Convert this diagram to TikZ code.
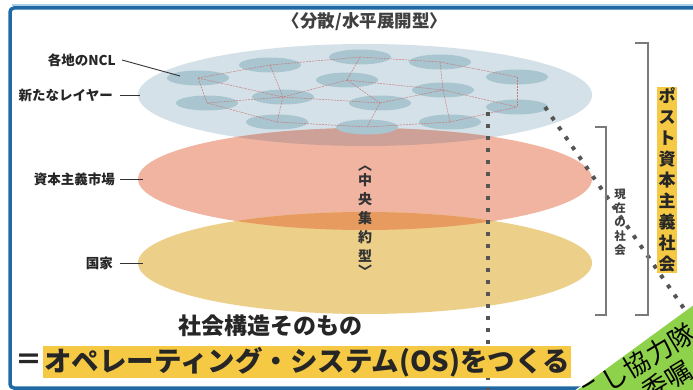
\documentclass[tikz,border=0pt]{standalone}
\usepackage{fontspec}
\setmainfont{Noto Sans CJK JP}
\usetikzlibrary{shapes.geometric}
\definecolor{frameblue}{HTML}{1F6AA5}
\definecolor{framelight}{HTML}{A9D2E6}
\definecolor{layerblue}{HTML}{D5E1E8}
\definecolor{nodeblue}{HTML}{A9C5D0}
\definecolor{pinklayer}{HTML}{F1B4A1}
\definecolor{yellowlayer}{HTML}{ECCF89}
\definecolor{orangeband}{HTML}{E89B5E}
\definecolor{brownband}{HTML}{CDA198}
\definecolor{hlyellow}{HTML}{F6C945}
\definecolor{netred}{HTML}{C77B7B}
\definecolor{bannergreen}{HTML}{8ED24C}
\definecolor{dotgray}{HTML}{555555}
\definecolor{brackgray}{HTML}{7A7A7A}
\tikzset{
  layer/.style={ellipse, minimum width=454pt, minimum height=102pt, inner sep=0pt},
  netnode/.style={ellipse, fill=nodeblue, minimum width=62pt, minimum height=15pt, inner sep=0pt},
  netline/.style={netred, line width=0.5pt, dash pattern=on 2pt off 1pt},
  dotline/.style={dotgray, line width=4pt, dash pattern=on 4pt off 8pt},
  bracketline/.style={brackgray, line width=1.2pt},
  leader/.style={draw=black!80, line width=0.9pt},
  lab/.style={font=\fontsize{13.5}{15}\selectfont\bfseries, text=black!85, inner sep=0pt},
  vtext/.style={align=center, inner sep=0pt},
}
\begin{document}
\begin{tikzpicture}[x=1pt,y=-1pt]
\useasboundingbox (0,0) rectangle (693,390);
\clip (0,0) rectangle (693,390);
\fill[white] (0,0) rectangle (693,390);
% frame
\draw[framelight, line width=1.5pt] (12,5) -- (700,5);
\draw[frameblue, line width=3.5pt, rounded corners=4pt] (10,8) rectangle (720,388);
% title
\node[font=\fontsize{17.5}{19}\selectfont\bfseries, text=black!75] (title) at (365,22) {〈分散/水平展開型〉};
% layers
\node[layer, fill=layerblue] (blue) at (365,95) {};
\node[layer, fill=pinklayer] (pink) at (365,179) {};
\node[layer, fill=yellowlayer] (yellow) at (365,263) {};
\begin{scope}
  \clip (365,179) ellipse [x radius=227pt, y radius=51pt];
  \fill[orangeband] (365,263) ellipse [x radius=227pt, y radius=51pt];
  \fill[brownband] (365,95) ellipse [x radius=227pt, y radius=51pt];
\end{scope}
% network
\node[netnode] (n1) at (198,78) {};
\node[netnode] (n2) at (270,65) {};
\node[netnode] (n3) at (360,57) {};
\node[netnode] (n4) at (440,62) {};
\node[netnode] (n5) at (517,77) {};
\node[netnode] (n6) at (347,80) {};
\node[netnode] (n7) at (283,97) {};
\node[netnode] (n8) at (443,90) {};
\node[netnode] (n9) at (207,103) {};
\node[netnode] (n10) at (380,103) {};
\node[netnode] (n11) at (517,107) {};
\node[netnode] (n12) at (277,122) {};
\node[netnode] (n13) at (367,127) {};
\node[netnode] (n14) at (450,122) {};
\foreach \a/\b in {n1/n2,n1/n9,n1/n7,n2/n3,n2/n7,n3/n6,n3/n4,n4/n8,n4/n5,n5/n11,n6/n7,n6/n8,n6/n10,n7/n9,n7/n10,n7/n12,n9/n12,n10/n13,n10/n8,n8/n11,n8/n14,n12/n13,n13/n14,n14/n11}
  \draw[netline] (\a.center) -- (\b.center);
% left labels
\node[lab, anchor=east] (l1) at (116,60) {各地のNCL};
\coordinate (p1) at (180,76);
\draw[leader] ([xshift=6pt]l1.east) -- (p1);
\node[lab, anchor=east] (l2) at (113,95) {新たなレイヤー};
\draw[leader] ([xshift=7pt]l2.east) -- ([xshift=2pt]blue.west);
\node[lab, anchor=east] (l3) at (115,179) {資本主義市場};
\draw[leader] ([xshift=5pt]l3.east) -- ([xshift=5pt]pink.west);
\node[lab, anchor=east] (l4) at (113,263) {国家};
\draw[leader] ([xshift=7pt]l4.east) -- ([xshift=5pt]yellow.west);
% central vertical text
\node[vtext, font=\fontsize{14}{19}\selectfont\bfseries, text=black!80] (center) at (365,221)
  {︿\\[-4pt]中\\央\\集\\約\\型\\[-4pt]﹀};
% dotted lines
\coordinate (vtop) at (488,112);
\coordinate (vbot) at (488,395);
\draw[dotline] (vtop) -- (vbot);
\coordinate (dtop) at (545,107);
\coordinate (dbot) at (747,400);
\draw[dotline] (dtop) -- (dbot);
% brackets
\coordinate (b1a) at (595,127);
\coordinate (b1b) at (606,127);
\coordinate (b1c) at (606,315);
\coordinate (b1d) at (595,315);
\draw[bracketline] (b1a) -- (b1b) -- (b1c) -- (b1d);
\coordinate (b2a) at (635,43);
\coordinate (b2b) at (648,43);
\coordinate (b2c) at (648,315);
\coordinate (b2d) at (635,315);
\draw[bracketline] (b2a) -- (b2b) -- (b2c) -- (b2d);
\node[vtext, font=\fontsize{11.5}{14}\selectfont\bfseries, text=black!75] (now) at (620,222) {現\\在\\の\\社\\会};
\node[vtext, fill=hlyellow, inner xsep=1.5pt, inner ysep=1pt, font=\fontsize{17}{21}\selectfont\bfseries, text=black!85] (post) at (667,180)
  {ポ\\ス\\ト\\資\\本\\主\\義\\社\\会};
% bottom text
\node[font=\fontsize{23}{26}\selectfont\bfseries, text=black!85] (soc) at (270,326) {社会構造そのもの};
\node[anchor=west, fill=hlyellow, inner xsep=1pt, inner ysep=1.5pt, font=\fontsize{27.5}{29}\selectfont\bfseries, text=black!85] (os) at (43,362) {オペレーティング・システム(OS)をつくる};
\node[anchor=east, inner sep=0pt, font=\fontsize{27}{29}\selectfont\bfseries, text=black!85] (eq) at (os.west) {＝};
% banner
\fill[bannergreen] (560,402) -- (705,296) -- (720,296) -- (720,410) -- (560,410) -- cycle;
\draw[white, line width=1pt] (564,399) -- (705,296);
\node[rotate=31, font=\fontsize{26}{28}\selectfont, text=black, inner sep=0pt] (ban1) at (637,364) {こし協力隊};
\node[rotate=31, font=\fontsize{26}{28}\selectfont, text=black, inner sep=0pt] (ban2) at (667,381) {委嘱};
\end{tikzpicture}
\end{document}
